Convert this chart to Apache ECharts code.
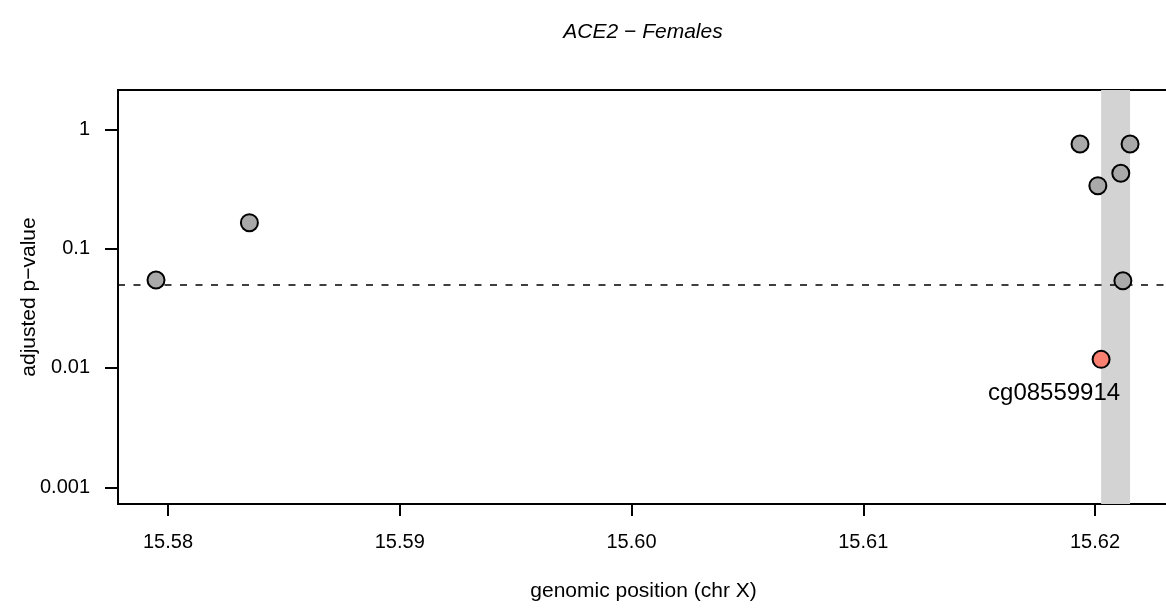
<!DOCTYPE html>
<html>
<head>
<meta charset="utf-8">
<script src="https://cdn.jsdelivr.net/npm/echarts@6/dist/echarts.min.js"></script>
<style>
html,body{margin:0;padding:0;background:#fff;}
#chart{width:1166px;height:609px;}
</style>
</head>
<body>
<div id="chart"></div>
<script>
// ---- data ----
const GREY_POS = [15.57948, 15.58351, 15.61935, 15.62012, 15.62111, 15.62120, 15.62151];
const GREY_P   = [0.0546,   0.165,    0.753,    0.337,    0.428,    0.0538,   0.753];
const HIT_POS  = [15.62026];
const HIT_P    = [0.0118];
const HIT_NAME = ['cg08559914'];
const REGION   = [15.62026, 15.62151];   // shaded region (genomic positions)
const THRESHOLD = 0.05;                 // dashed significance line
const X_TICKS  = [15.58, 15.59, 15.60, 15.61, 15.62];
const X_TICK_LABELS = ['15.58', '15.59', '15.60', '15.61', '15.62'];
const Y_TICKS  = [0.001, 0.01, 0.1, 1];
const Y_TICK_LABELS = ['0.001', '0.01', '0.1', '1'];
const XLIM = [15.57784, 15.62319];      // plotting-region limits
const YLIM = [0.000724, 2.135];
const TITLE = 'ACE2 \u2212 Females';
const X_NAME = 'genomic position (chr X)';
const Y_NAME = 'adjusted p\u2212value';

const FONT = '"Liberation Sans", Arial, Helvetica, sans-serif';
const chart = echarts.init(document.getElementById('chart'), null, {renderer: 'canvas'});

function nearestLabel(ticks, labels, useLog) {
  return function (v) {
    let best = 0, bd = Infinity;
    ticks.forEach((t, i) => {
      const d = useLog ? Math.abs(Math.log10(t) - Math.log10(v)) : Math.abs(t - v);
      if (d < bd) { bd = d; best = i; }
    });
    return labels[best];
  };
}

const hiddenParts = {
  axisLine: {show: false},
  axisTick: {show: false},
  axisLabel: {show: false},
  splitLine: {show: false},
  minorTick: {show: false}
};

const option = {
  animation: false,
  backgroundColor: '#ffffff',
  title: {
    text: TITLE,
    left: 643,
    top: 22,
    padding: 0,
    textAlign: 'center',
    textStyle: {fontFamily: FONT, fontStyle: 'italic', fontWeight: 'normal', fontSize: 21, color: '#000'}
  },
  grid: [
    // plotting region (box)
    {left: 118, top: 90, width: 1051, height: 414, show: true, borderColor: '#000', borderWidth: 2,
     backgroundColor: 'transparent', containLabel: false, outerBoundsMode: 'none'},
    // tick range region
    {left: 168, top: 129.3, width: 927, height: 358, show: false, containLabel: false, outerBoundsMode: 'none'}
  ],
  xAxis: [
    Object.assign({
      type: 'value', gridIndex: 0, min: XLIM[0], max: XLIM[1],
      name: X_NAME, nameLocation: 'middle', nameGap: 77,
      nameTextStyle: {color: '#000', fontFamily: FONT, fontSize: 21}
    }, hiddenParts),
    {
      type: 'value', gridIndex: 1, min: X_TICKS[0], max: X_TICKS[X_TICKS.length - 1], interval: 0.01,
      offset: 16.7,
      axisLine: {show: false},
      axisTick: {show: true, length: 12, inside: false, lineStyle: {color: '#000', width: 2}},
      splitLine: {show: false},
      axisLabel: {margin: 28, color: '#000', fontFamily: FONT, fontSize: 20,
                  formatter: nearestLabel(X_TICKS, X_TICK_LABELS, false)}
    }
  ],
  yAxis: [
    Object.assign({
      type: 'log', logBase: 10, gridIndex: 0, min: YLIM[0], max: YLIM[1],
      name: Y_NAME, nameLocation: 'middle', nameGap: 78, nameRotate: 90,
      nameTextStyle: {color: '#000', fontFamily: FONT, fontSize: 21}
    }, hiddenParts),
    {
      type: 'log', logBase: 10, gridIndex: 1, min: Y_TICKS[0], max: Y_TICKS[Y_TICKS.length - 1],
      offset: 50,
      axisLine: {show: false},
      axisTick: {show: true, length: 13, inside: false, lineStyle: {color: '#000', width: 2}},
      splitLine: {show: false},
      minorTick: {show: false},
      axisLabel: {margin: 28, color: '#000', fontFamily: FONT, fontSize: 20,
                  formatter: nearestLabel(Y_TICKS, Y_TICK_LABELS, true)}
    }
  ],
  series: [
    {
      name: 'region',
      type: 'scatter',
      xAxisIndex: 0, yAxisIndex: 0,
      data: [],
      z: 1,
      silent: true,
      markArea: {
        silent: true,
        z: 1,
        itemStyle: {color: '#D3D3D3', opacity: 1, borderWidth: 0},
        data: [[{xAxis: REGION[0]}, {xAxis: REGION[1]}]]
      },
      markLine: {
        silent: true,
        z: 2,
        symbol: ['none', 'none'],
        label: {show: false},
        lineStyle: {color: '#000', width: 1.6, type: [7, 8.5]},
        data: [{yAxis: THRESHOLD}]
      }
    },
    {
      name: 'probes',
      type: 'scatter',
      xAxisIndex: 0, yAxisIndex: 0,
      z: 10,
      symbol: 'circle',
      symbolSize: 17,
      itemStyle: {color: '#A9A9A9', borderColor: '#000', borderWidth: 2, opacity: 1},
      data: GREY_POS.map((x, i) => [x, GREY_P[i]])
    },
    {
      name: 'significant',
      type: 'scatter',
      xAxisIndex: 0, yAxisIndex: 0,
      z: 11,
      symbol: 'circle',
      symbolSize: 17,
      itemStyle: {color: '#FA8072', borderColor: '#000', borderWidth: 2, opacity: 1},
      label: {
        show: true,
        position: 'inside',
        offset: [-47, 34],
        formatter: p => HIT_NAME[p.dataIndex],
        color: '#000', fontFamily: FONT, fontSize: 24
      },
      data: HIT_POS.map((x, i) => [x, HIT_P[i]])
    }
  ]
};
chart.setOption(option);
</script>
</body>
</html>
